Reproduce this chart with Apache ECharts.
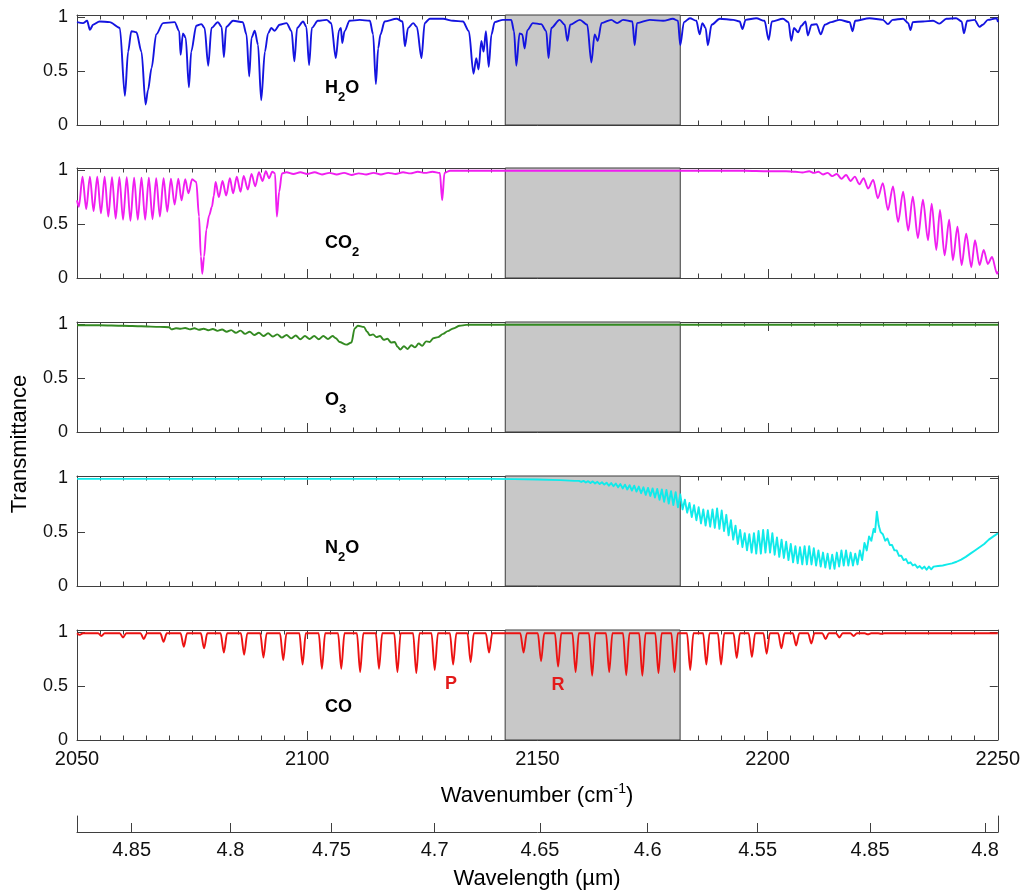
<!DOCTYPE html>
<html><head><meta charset="utf-8">
<script src="https://cdn.jsdelivr.net/npm/echarts@6/dist/echarts.min.js"></script>
<style>html,body{margin:0;padding:0;background:#fff}#c{width:1023px;height:893px}</style>
</head><body><div id="c"></div><script>
// ---------- data ----------
const wnRange = [2050, 2250];
const shadeBand = [2143, 2181];
const yTickLabels = ['0', '0.5', '1'];
const xTickLabels = ['2050', '2100', '2150', '2200', '2250'];
const wavelengthTicks = [4.85, 4.8, 4.75, 4.7, 4.65, 4.6, 4.55, 4.5, 4.45];
const wavelengthLabels = ['4.85', '4.8', '4.75', '4.7', '4.65', '4.6', '4.55', '4.85', '4.8'];
const moleculeNames = ['H2O', 'CO2', 'O3', 'N2O', 'CO'];
const moleculeColors = ['#1414e0', '#f01ef0', '#348a22', '#10eaea', '#ec1212'];

const h2o = [[2050.0,.954],[2051.3,.945],[2052.2,.966],[2052.8,.883],[2053.5,.93],[2054.9,.96],[2057.1,.954],[2059.3,.90],[2060.4,.27],[2061.1,.68],[2061.8,.87],[2062.9,.86],[2064.0,.68],[2064.9,.19],[2065.4,.32],[2066.2,.53],[2067.2,.84],[2068.7,.945],[2071.2,.954],[2072.2,.87],[2072.5,.65],[2073.0,.85],[2073.6,.81],[2074.3,.35],[2074.8,.68],[2075.9,.92],[2077.0,.935],[2077.7,.90],[2078.5,.55],[2079.2,.90],[2080.6,.954],[2081.4,.91],[2081.9,.63],[2082.4,.91],[2083.9,.966],[2086.0,.954],[2086.8,.84],[2087.4,.45],[2087.9,.81],[2088.6,.874],[2089.3,.745],[2090.0,.23],[2090.8,.68],[2091.5,.85],[2092.2,.90],[2092.9,.874],[2094.0,.93],[2095.5,.945],[2096.6,.87],[2097.2,.59],[2097.8,.90],[2099.1,.96],[2099.8,.91],[2100.4,.555],[2101.0,.90],[2102.3,.966],[2104.2,.975],[2105.2,.945],[2106.2,.62],[2106.9,.88],[2107.3,.90],[2107.6,.76],[2108.1,.87],[2109.2,.966],[2111.4,.975],[2113.6,.966],[2114.3,.84],[2114.9,.38],[2115.4,.71],[2115.9,.84],[2116.8,.96],[2119.4,.985],[2120.7,.96],[2121.2,.73],[2121.9,.90],[2123.0,.945],[2123.8,.91],[2124.8,.62],[2125.5,.945],[2126.6,.985],[2129.5,.985],[2131.7,.966],[2133.8,.96],[2135.1,.87],[2136.1,.475],[2136.7,.62],[2137.2,.515],[2137.8,.78],[2138.3,.68],[2138.8,.87],[2139.4,.54],[2140.0,.84],[2140.7,.954],[2142.5,.975],[2144.3,.975],[2144.9,.87],[2145.4,.55],[2146.1,.85],[2146.7,.84],[2147.2,.71],[2147.8,.88],[2149.0,.945],[2150.8,.935],[2151.9,.87],[2152.4,.62],[2153.0,.90],[2154.8,.975],[2155.9,.93],[2156.5,.78],[2157.1,.93],[2159.2,.975],[2160.8,.93],[2161.7,.58],[2162.4,.84],[2163.1,.78],[2163.9,.945],[2166.0,.975],[2167.3,.945],[2168.6,.975],[2170.6,.96],[2171.1,.74],[2171.6,.945],[2174.4,.975],[2177.3,.966],[2179.4,.985],[2180.5,.966],[2181.0,.74],[2181.8,.954],[2183.1,.99],[2184.5,.966],[2185.2,.84],[2185.8,.945],[2186.5,.90],[2187.0,.74],[2187.8,.93],[2189.6,.985],[2192.5,.975],[2193.9,.96],[2194.5,.89],[2195.2,.975],[2197.5,.99],[2199.3,.966],[2200.2,.79],[2200.9,.96],[2203.3,.985],[2204.5,.954],[2205.1,.78],[2205.7,.90],[2206.6,.86],[2207.3,.92],[2208.2,.96],[2208.7,.83],[2209.5,.93],[2210.6,.935],[2211.5,.84],[2212.4,.93],[2213.8,.954],[2215.6,.975],[2217.8,.954],[2218.4,.87],[2219.0,.966],[2222.1,.99],[2225.0,.975],[2226.1,.935],[2227.1,.975],[2229.4,.985],[2230.5,.945],[2231.0,.88],[2231.5,.954],[2233.7,.96],[2235.9,.966],[2237.3,.94],[2238.8,.985],[2240.9,.99],[2242.1,.96],[2242.6,.85],[2243.3,.966],[2244.9,.975],[2246.0,.91],[2246.7,.93],[2247.8,.975],[2249.7,.99],[2250,.954]];

const co2 = [[2050.0,.72],[2050.4,.66],[2051.2,.94],[2052.0,.64],[2052.8,.94],[2053.6,.62],[2054.4,.94],[2055.2,.60],[2056.0,.94],[2056.8,.57],[2057.6,.935],[2058.4,.55],[2059.2,.935],[2060.0,.54],[2060.8,.935],[2061.6,.53],[2062.4,.93],[2063.2,.54],[2064.0,.93],[2064.8,.54],[2065.6,.93],[2066.4,.545],[2067.2,.925],[2068.0,.57],[2068.8,.925],[2069.6,.615],[2070.4,.92],[2071.2,.68],[2072.0,.92],[2072.7,.72],[2073.5,.915],[2074.2,.785],[2075.0,.915],[2075.9,.89],[2076.5,.57],[2076.9,.20],[2077.2,.04],[2077.6,.20],[2078.1,.45],[2078.7,.58],[2079.3,.66],[2079.7,.76],[2080.1,.89],[2080.8,.75],[2081.6,.90],[2082.4,.765],[2083.2,.925],[2083.9,.785],[2084.7,.94],[2085.5,.80],[2086.2,.946],[2087.1,.82],[2087.9,.965],[2088.7,.85],[2089.5,.98],[2090.3,.90],[2091.0,.99],[2091.7,.925],[2092.4,.985],[2093.0,.97],[2093.4,.57],[2093.9,.80],[2094.5,.97],[2095.5,.98],[2097,.965],[2098.5,.98],[2100,.965],[2101.6,.98],[2103.2,.96],[2104.8,.975],[2106.4,.96],[2108,.975],[2109.6,.955],[2111.2,.97],[2112.8,.96],[2114.4,.975],[2116,.96],[2117.6,.975],[2119.2,.965],[2120.8,.98],[2122.4,.97],[2124,.985],[2125.6,.975],[2127.2,.985],[2128.8,.975],[2129.3,.72],[2129.8,.975],[2131,.995],[2195,.995],[2200,.99],[2204,.99],[2206,.985],[2207.5,.978],[2209,.99],[2210,.975],[2211,.985],[2212,.96],[2213,.975],[2214,.945],[2215,.965],[2216,.92],[2217,.955],[2218,.90],[2218.9,.94],[2219.9,.87],[2220.8,.925],[2221.8,.83],[2222.9,.91],[2223.9,.74],[2225.0,.88],[2226.1,.63],[2227.2,.85],[2228.3,.52],[2229.4,.80],[2230.5,.44],[2231.5,.755],[2232.6,.37],[2233.7,.725],[2234.8,.35],[2235.6,.69],[2236.6,.26],[2237.4,.63],[2238.4,.21],[2239.4,.54],[2240.2,.165],[2241.2,.475],[2242.1,.12],[2243.1,.41],[2244.2,.10],[2245.0,.35],[2246.0,.12],[2246.9,.26],[2247.8,.13],[2248.7,.195],[2249.8,.04],[2250,.06]];

const o3 = [[2050,.99],[2055,.99],[2060,.985],[2064,.98],[2068,.975],[2070.0,.972],[2070.5,.952],[2071.5,.962],[2072.5,.958],[2073.5,.965],[2074.5,.952],[2075.5,.962],[2076.5,.948],[2077.5,.958],[2078.5,.944],[2079.5,.955],[2080.5,.938],[2081.5,.95],[2082.5,.93],[2083.5,.945],[2084.5,.92],[2085.5,.94],[2086.5,.91],[2087.5,.93],[2088.5,.90],[2089.5,.92],[2090.5,.89],[2091.5,.915],[2092.5,.885],[2093.5,.905],[2094.5,.875],[2095.5,.90],[2096.5,.868],[2097.5,.895],[2098.5,.86],[2099.5,.89],[2100.5,.862],[2101.5,.89],[2102.5,.86],[2103.5,.89],[2104.5,.862],[2105.5,.89],[2106.2,.87],[2107.0,.835],[2108.5,.81],[2109.6,.83],[2110.3,.96],[2111.0,.985],[2112.3,.975],[2113.0,.93],[2113.6,.897],[2114.3,.905],[2115,.88],[2115.8,.89],[2116.6,.855],[2117.4,.865],[2118.2,.83],[2119.0,.835],[2119.6,.79],[2120.2,.765],[2121.0,.795],[2121.8,.77],[2122.6,.805],[2123.4,.785],[2124.2,.82],[2125.0,.80],[2125.8,.84],[2126.6,.835],[2127.4,.87],[2128.4,.88],[2129.5,.91],[2130.5,.935],[2131.7,.96],[2133.1,.985],[2134.5,.993],[2136,.995],[2250,.995]];

const n2o = [[2050,.993],[2140,.993],[2145,.991],[2150,.988],[2155,.982],[2158,.975],[2159,.975],[2159.5,.965],[2160,.975],[2160.5,.96],[2161,.972],[2161.5,.955],[2162,.97],[2162.5,.95],[2163,.966],[2163.5,.945],[2164,.962],[2164.5,.94],[2165,.958],[2165.5,.93],[2166,.955],[2166.5,.925],[2167,.95],[2167.5,.915],[2168,.945],[2168.5,.905],[2169,.94],[2169.5,.895],[2170,.935],[2170.5,.885],[2171,.93],[2171.5,.875],[2172,.922],[2172.5,.86],[2173,.915],[2173.5,.845],[2174,.91],[2174.5,.835],[2175,.905],[2175.5,.82],[2176,.90],[2176.5,.80],[2177,.895],[2177.5,.78],[2178,.89],[2178.5,.765],[2179,.88],[2179.5,.75],[2180,.87],[2180.5,.73],[2181,.85],[2181.5,.71],[2182,.80],[2182.5,.68],[2183,.77],[2183.5,.64],[2184,.75],[2184.5,.61],[2185,.73],[2185.5,.58],[2186,.71],[2186.5,.56],[2187,.70],[2187.5,.55],[2188,.71],[2188.5,.54],[2189,.72],[2189.5,.53],[2190,.70],[2190.5,.51],[2191,.66],[2191.5,.47],[2192,.61],[2192.5,.43],[2193,.56],[2193.5,.39],[2194,.52],[2194.5,.36],[2195,.49],[2195.5,.33],[2196,.48],[2196.5,.31],[2197,.49],[2197.5,.30],[2198,.51],[2198.5,.30],[2199,.52],[2199.5,.31],[2200,.52],[2200.5,.31],[2201,.49],[2201.5,.29],[2202,.45],[2202.5,.27],[2203,.43],[2203.5,.26],[2204,.41],[2204.5,.24],[2205,.39],[2205.5,.22],[2206,.37],[2206.5,.21],[2207,.36],[2207.5,.20],[2208,.37],[2208.5,.20],[2209,.37],[2209.5,.20],[2210,.35],[2210.5,.19],[2211,.33],[2211.5,.18],[2212,.31],[2212.5,.17],[2213,.30],[2213.5,.16],[2214,.29],[2214.5,.16],[2215,.31],[2215.5,.18],[2216,.33],[2216.5,.19],[2217,.33],[2217.5,.19],[2218,.31],[2218.5,.19],[2219,.30],[2219.5,.20],[2220,.33],[2220.5,.24],[2221,.40],[2221.5,.33],[2222,.46],[2222.5,.42],[2223,.53],[2223.3,.50],[2223.7,.69],[2224.1,.56],[2224.5,.50],[2225,.48],[2225.5,.42],[2226,.44],[2226.5,.38],[2227,.38],[2227.5,.33],[2228,.33],[2228.5,.28],[2229,.28],[2229.5,.24],[2230,.25],[2230.5,.21],[2231,.22],[2231.5,.19],[2232,.20],[2232.5,.17],[2233,.185],[2233.5,.16],[2234,.18],[2234.5,.15],[2235,.18],[2235.5,.155],[2236,.18],[2237,.185],[2238,.19],[2239,.20],[2240,.21],[2241,.225],[2242,.245],[2243,.27],[2244,.30],[2245,.33],[2246,.36],[2247,.39],[2248,.43],[2249,.46],[2250,.49]];

// CO: line centres (cm-1), line-centre transmittance, baseline and half-width of each line
const coCenters = [2050.6,2055.3,2060.0,2064.5,2068.8,2073.2,2077.6,2081.9,2086.3,2090.5,2094.8,2099.0,2103.2,2107.4,2111.5,2115.6,2119.6,2123.7,2127.7,2131.7,2135.5,2139.5,
  2147.0,2150.8,2154.5,2158.3,2161.9,2165.6,2169.3,2172.8,2176.3,2179.8,2183.2,2186.7,2189.9,2193.3,2196.6,2199.8,2203.0,2206.2,2209.5,2212.6,2215.6,2218.7,2221.8,2224.7];
const coMinima = [.975,.965,.95,.935,.91,.865,.85,.81,.79,.765,.74,.70,.66,.66,.63,.66,.63,.62,.65,.70,.72,.81,
  .81,.73,.68,.63,.595,.63,.60,.595,.62,.63,.65,.70,.70,.76,.77,.80,.85,.875,.895,.935,.95,.965,.98,.985];
const coBaseline = 0.99;
const coHalfWidth = 0.7;

// ---------- build ----------
const coData = [[wnRange[0], coBaseline]];
coCenters.forEach((c, i) => {
  coData.push([c - coHalfWidth, coBaseline], [c, coMinima[i]], [c + coHalfWidth, coBaseline]);
});
coData.push([wnRange[1], coBaseline]);

const spectra = [h2o, co2, o3, n2o, coData];
const FONT = '"Liberation Sans", Arial, Helvetica, sans-serif';
const frameColor = '#3f3f3f';
const gridTops = [15, 168, 322, 476, 630];
const gridH = 110;
const L = 77, R = 25;
const labelY = [88, 243, 400, 548, 707];

const grids = [], xAxes = [], yAxes = [], series = [];
gridTops.forEach((t, i) => {
  grids.push({left: L, right: R, top: t, height: gridH, containLabel: false});
  const xBase = {
    gridIndex: i, type: 'value', min: wnRange[0], max: wnRange[1], interval: 50,
    axisLine: {show: true, onZero: false, lineStyle: {color: frameColor, width: 1}},
    axisTick: {show: true, inside: true, length: 9, lineStyle: {color: frameColor}},
    minorTick: {show: true, splitNumber: 10, length: 4.5, lineStyle: {color: frameColor}},
    splitLine: {show: false}, minorSplitLine: {show: false}
  };
  xAxes.push(Object.assign({}, xBase, {position: 'bottom',
    axisLabel: {show: i === 4, fontSize: 20, fontFamily: FONT, color: '#111', margin: 9,
      formatter: v => xTickLabels.includes(String(v)) ? String(v) : ''}}));
  xAxes.push(Object.assign({}, xBase, {position: 'top', axisLabel: {show: false}}));
  const yBase = {
    gridIndex: i, type: 'value', min: 0, max: 1.02, interval: 0.5,
    axisLine: {show: true, onZero: false, lineStyle: {color: frameColor, width: 1}},
    axisTick: {show: true, inside: true, length: 8, lineStyle: {color: frameColor}},
    splitLine: {show: false}
  };
  yAxes.push(Object.assign({}, yBase, {position: 'left',
    axisLabel: {show: true, fontSize: 18, fontFamily: FONT, color: '#111', margin: 9,
      formatter: v => { const s = String(v); return yTickLabels.includes(s) ? s : ''; }}}));
  yAxes.push(Object.assign({}, yBase, {position: 'right', axisLabel: {show: false}}));
  series.push({
    type: 'line', xAxisIndex: 2 * i, yAxisIndex: 2 * i, data: spectra[i],
    showSymbol: false, symbol: 'none', smooth: i === 3 ? false : 0.3, smoothMonotone: 'x',
    animation: false, z: 3,
    lineStyle: {color: moleculeColors[i], width: 1.9, join: 'round'},
    markArea: {silent: true, z: 1,
      itemStyle: {color: '#c8c8c8', borderColor: '#3a3a3a', borderWidth: 1},
      data: [[{xAxis: shadeBand[0]}, {xAxis: shadeBand[1]}]]}
  });
});

// wavelength axis
grids.push({left: L, right: R, top: 816, height: 16});
xAxes.push({
  gridIndex: 5, type: 'value', min: wnRange[0], max: wnRange[1], position: 'bottom',
  axisLine: {show: true, onZero: false, lineStyle: {color: frameColor}},
  axisTick: {show: true, inside: true, length: 9, lineStyle: {color: frameColor},
    customValues: wavelengthTicks.map(l => 1e4 / l)},
  axisLabel: {show: true, fontSize: 20, fontFamily: FONT, color: '#111', margin: 8,
    customValues: wavelengthTicks.map(l => 1e4 / l),
    formatter: v => { const k = wavelengthTicks.findIndex(l => Math.abs(1e4 / l - v) < 0.01); return k >= 0 ? wavelengthLabels[k] : ''; }},
  splitLine: {show: false}
});
['left', 'right'].forEach(p => yAxes.push({
  gridIndex: 5, type: 'value', min: 0, max: 1, position: p,
  axisLine: {show: true, lineStyle: {color: frameColor}},
  axisTick: {show: false}, axisLabel: {show: false}, splitLine: {show: false}
}));

// texts
const richBase = {
  a: {fontSize: 18, fontWeight: 'bold', fontFamily: FONT, color: '#000'},
  s: {fontSize: 13, fontWeight: 'bold', fontFamily: FONT, color: '#000', padding: [18, 0, 0, 0]}
};
const molRich = ['{a|H}{s|2}{a|O}', '{a|CO}{s|2}', '{a|O}{s|3}', '{a|N}{s|2}{a|O}', '{a|CO}'];
const graphics = molRich.map((txt, i) => ({
  type: 'text', x: 325, y: labelY[i], z: 10,
  style: {text: txt, rich: richBase, align: 'left', verticalAlign: 'middle'}
}));
graphics.push(
  {type: 'text', x: 451, y: 684, z: 10, style: {text: 'P', fontSize: 18, fontWeight: 'bold', fontFamily: FONT, fill: '#e31b1b', align: 'center', verticalAlign: 'middle'}},
  {type: 'text', x: 558, y: 685, z: 10, style: {text: 'R', fontSize: 18, fontWeight: 'bold', fontFamily: FONT, fill: '#e31b1b', align: 'center', verticalAlign: 'middle'}},
  {type: 'text', x: 20, y: 444, rotation: Math.PI / 2, z: 10,
    style: {text: 'Transmittance', fontSize: 22, fontFamily: FONT, fill: '#000', align: 'center', verticalAlign: 'middle'}},
  {type: 'text', x: 537, y: 796, z: 10,
    style: {text: '{t|Wavenumber (cm}{p|-1}{t|)}', align: 'center', verticalAlign: 'middle',
      rich: {t: {fontSize: 22, fontFamily: FONT, color: '#000'}, p: {fontSize: 14, fontFamily: FONT, color: '#000', padding: [0, 0, 14, 0]}}}},
  {type: 'text', x: 537, y: 879, z: 10,
    style: {text: 'Wavelength (µm)', fontSize: 22, fontFamily: FONT, fill: '#000', align: 'center', verticalAlign: 'middle'}}
);

const chart = echarts.init(document.getElementById('c'), null, {renderer: 'canvas'});
chart.setOption({
  backgroundColor: '#fff', animation: false,
  grid: grids, xAxis: xAxes, yAxis: yAxes, series: series, graphic: graphics
});
</script></body></html>
